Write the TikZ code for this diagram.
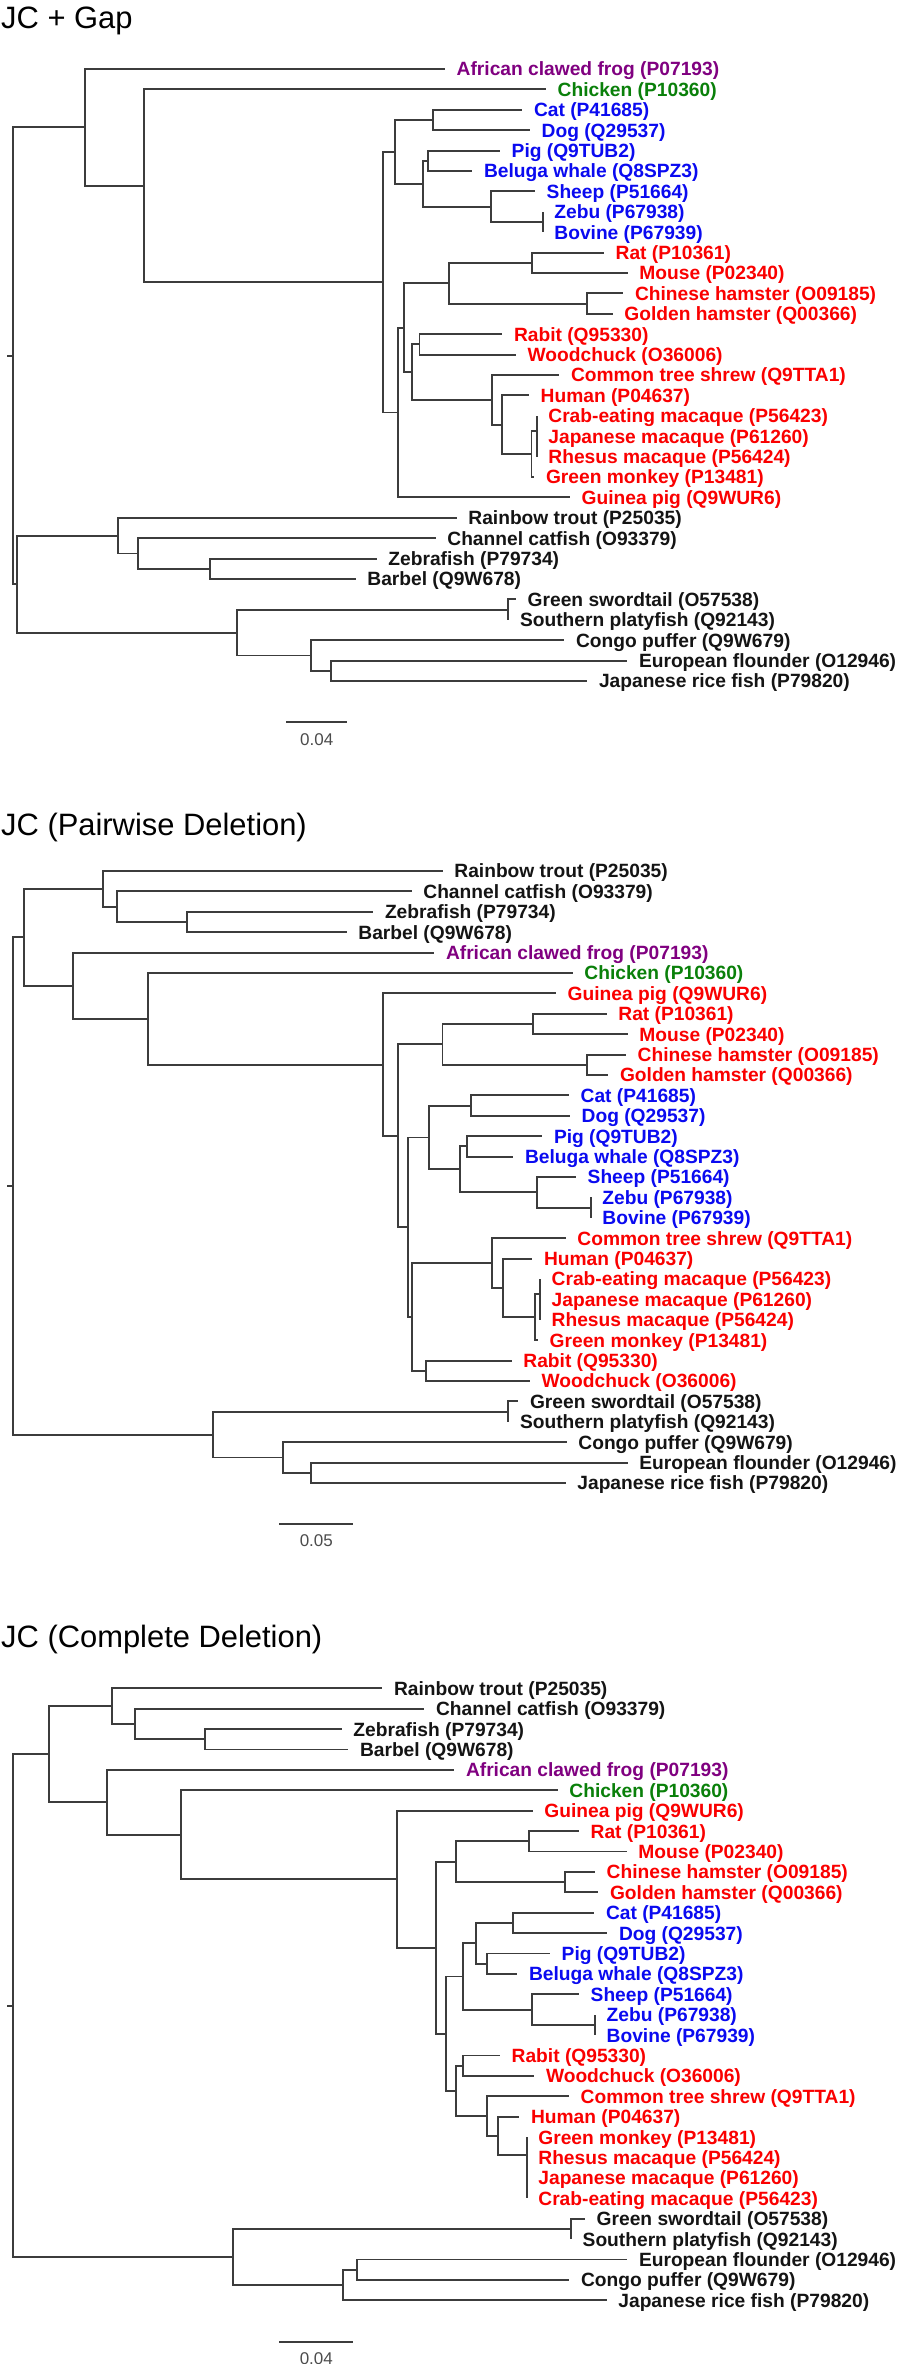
\documentclass[tikz,border=0pt]{standalone}
\usepackage{fontspec}
\setmainfont{Liberation Sans}
\usetikzlibrary{calc}
\definecolor{cpurple}{RGB}{128,0,128}
\definecolor{cgreen}{RGB}{10,128,10}
\definecolor{cblue}{RGB}{10,10,240}
\definecolor{cred}{RGB}{250,0,0}
\definecolor{cblack}{RGB}{20,20,20}
\definecolor{cline}{RGB}{60,60,60}
\tikzset{
  branch/.style={draw=cline, line width=1.9pt},
  lbl/.style={font=\bfseries\fontsize{19.2}{21}\selectfont, anchor=base west, inner sep=0pt},
  ttl/.style={font=\fontsize{30.9}{33}\selectfont, anchor=base west, inner sep=0pt, text=black},
  scl/.style={font=\fontsize{17}{19}\selectfont, anchor=base, inner sep=0pt, text=black!70},
}
\newcommand\leafnode[5]{\coordinate (#1) at (#2,#3);
  \node[lbl,text=#4] (#1-l) at ($(#1)+(11.5,6.9)$) {#5};}
\newcommand\brs[2]{\foreach \cc in {#2} {\draw[branch] (#1) |- (\cc);}}
\begin{document}
\begin{tikzpicture}[x=1pt,y=-1pt]
\fill[white] (0,0) rectangle (904,2364);
\useasboundingbox (0,0) rectangle (904,2364);

% ===================== Tree 1: JC + Gap =====================
\node[ttl] (a-title) at (1,28.3) {JC + Gap};
\leafnode{a0}{445}{69}{cpurple}{African clawed frog (P07193)}
\leafnode{a1}{546}{89.4}{cgreen}{Chicken (P10360)}
\leafnode{a2}{522.3}{109.8}{cblue}{Cat (P41685)}
\leafnode{a3}{530}{130.2}{cblue}{Dog (Q29537)}
\leafnode{a4}{500}{150.6}{cblue}{Pig (Q9TUB2)}
\leafnode{a5}{472.3}{171}{cblue}{Beluga whale (Q8SPZ3)}
\leafnode{a6}{535}{191.4}{cblue}{Sheep (P51664)}
\leafnode{a7}{542.7}{211.8}{cblue}{Zebu (P67938)}
\leafnode{a8}{542.7}{232.2}{cblue}{Bovine (P67939)}
\leafnode{a9}{604}{252.6}{cred}{Rat (P10361)}
\leafnode{a10}{627.7}{273}{cred}{Mouse (P02340)}
\leafnode{a11}{623.3}{293.4}{cred}{Chinese hamster (O09185)}
\leafnode{a12}{612.7}{313.8}{cred}{Golden hamster (Q00366)}
\leafnode{a13}{502.3}{334.2}{cred}{Rabit (Q95330)}
\leafnode{a14}{516}{354.6}{cred}{Woodchuck (O36006)}
\leafnode{a15}{559.3}{375}{cred}{Common tree shrew (Q9TTA1)}
\leafnode{a16}{529}{395.4}{cred}{Human (P04637)}
\leafnode{a17}{536.7}{415.8}{cred}{Crab-eating macaque (P56423)}
\leafnode{a18}{536.7}{436.2}{cred}{Japanese macaque (P61260)}
\leafnode{a19}{536.7}{456.6}{cred}{Rhesus macaque (P56424)}
\leafnode{a20}{534.3}{477}{cred}{Green monkey (P13481)}
\leafnode{a21}{570}{497.4}{cred}{Guinea pig (Q9WUR6)}
\leafnode{a22}{456.7}{517.8}{cblack}{Rainbow trout (P25035)}
\leafnode{a23}{435.7}{538.2}{cblack}{Channel catfish (O93379)}
\leafnode{a24}{376.7}{558.6}{cblack}{Zebrafish (P79734)}
\leafnode{a25}{355.7}{579}{cblack}{Barbel (Q9W678)}
\leafnode{a26}{516}{599.4}{cblack}{Green swordtail (O57538)}
\leafnode{a27}{508.3}{619.8}{cblack}{Southern platyfish (Q92143)}
\leafnode{a28}{564.3}{640.2}{cblack}{Congo puffer (Q9W679)}
\leafnode{a29}{627.3}{660.6}{cblack}{European flounder (O12946)}
\leafnode{a30}{587.3}{681}{cblack}{Japanese rice fish (P79820)}

\coordinate (a-zb) at (542.7,222);
\coordinate (a-sh) at (491.3,206.7);
\coordinate (a-pb) at (427.7,160.8);
\coordinate (a-d2) at (423,183.75);
\coordinate (a-cd) at (432.7,120);
\coordinate (a-D) at (395.3,151.9);
\coordinate (a-rm) at (531.7,262.8);
\coordinate (a-hm) at (586.7,303.6);
\coordinate (a-ro) at (449,283.2);
\coordinate (a-rw) at (419.5,344.4);
\coordinate (a-M2) at (536.7,431.1);
\coordinate (a-M1) at (531.5,454.05);
\coordinate (a-H) at (501.7,424.7);
\coordinate (a-pr) at (492.3,399.9);
\coordinate (a-G) at (412.3,372.1);
\coordinate (a-F) at (403.7,327.65);
\coordinate (a-E) at (397.7,412.5);
\coordinate (a-C) at (383.3,282.2);
\coordinate (a-B) at (144.3,185.8);
\coordinate (a-A) at (85.3,127.4);
\coordinate (a-zbb) at (210,568.8);
\coordinate (a-cc) at (138.3,553.5);
\coordinate (a-rt) at (117.7,535.65);
\coordinate (a-sp) at (508.3,609.6);
\coordinate (a-fr) at (331,670.8);
\coordinate (a-cp) at (310.7,655.5);
\coordinate (a-pf) at (236.7,632.55);
\coordinate (a-fish) at (16.7,584.1);
\coordinate (a-root) at (13.3,355.75);
\coordinate (a-tick) at (6.7,355.75);

\brs{a-zb}{a7,a8}
\brs{a-sh}{a6,a-zb}
\brs{a-pb}{a4,a5}
\brs{a-d2}{a-pb,a-sh}
\brs{a-cd}{a2,a3}
\brs{a-D}{a-cd,a-d2}
\brs{a-rm}{a9,a10}
\brs{a-hm}{a11,a12}
\brs{a-ro}{a-rm,a-hm}
\brs{a-rw}{a13,a14}
\brs{a-M2}{a17,a18,a19}
\brs{a-M1}{a-M2,a20}
\brs{a-H}{a16,a-M1}
\brs{a-pr}{a15,a-H}
\brs{a-G}{a-rw,a-pr}
\brs{a-F}{a-ro,a-G}
\brs{a-E}{a-F,a21}
\brs{a-C}{a-D,a-E}
\brs{a-B}{a1,a-C}
\brs{a-A}{a0,a-B}
\brs{a-zbb}{a24,a25}
\brs{a-cc}{a23,a-zbb}
\brs{a-rt}{a22,a-cc}
\brs{a-sp}{a26,a27}
\brs{a-fr}{a29,a30}
\brs{a-cp}{a28,a-fr}
\brs{a-pf}{a-sp,a-cp}
\brs{a-fish}{a-rt,a-pf}
\brs{a-root}{a-A,a-fish}
\draw[branch] (a-root) -- (a-tick);

\coordinate (a-s1) at (286,721.7);
\coordinate (a-s2) at (347.3,721.7);
\draw[branch] (a-s1) -- (a-s2);
\node[scl] (a-sl) at (316.7,745) {0.04};

% ===================== Tree 2: Pairwise =====================
\node[ttl] (b-title) at (1,835.5) {JC (Pairwise Deletion)};
\leafnode{b0}{442.7}{871}{cblack}{Rainbow trout (P25035)}
\leafnode{b1}{411.7}{891.4}{cblack}{Channel catfish (O93379)}
\leafnode{b2}{373.3}{911.8}{cblack}{Zebrafish (P79734)}
\leafnode{b3}{346.7}{932.2}{cblack}{Barbel (Q9W678)}
\leafnode{b4}{434.3}{952.6}{cpurple}{African clawed frog (P07193)}
\leafnode{b5}{572.7}{973}{cgreen}{Chicken (P10360)}
\leafnode{b6}{556}{993.4}{cred}{Guinea pig (Q9WUR6)}
\leafnode{b7}{606.7}{1013.8}{cred}{Rat (P10361)}
\leafnode{b8}{627.7}{1034.2}{cred}{Mouse (P02340)}
\leafnode{b9}{626}{1054.6}{cred}{Chinese hamster (O09185)}
\leafnode{b10}{608.3}{1075}{cred}{Golden hamster (Q00366)}
\leafnode{b11}{569}{1095.4}{cblue}{Cat (P41685)}
\leafnode{b12}{570}{1115.8}{cblue}{Dog (Q29537)}
\leafnode{b13}{542.3}{1136.2}{cblue}{Pig (Q9TUB2)}
\leafnode{b14}{513.3}{1156.6}{cblue}{Beluga whale (Q8SPZ3)}
\leafnode{b15}{576}{1177}{cblue}{Sheep (P51664)}
\leafnode{b16}{590.7}{1197.4}{cblue}{Zebu (P67938)}
\leafnode{b17}{590.7}{1217.8}{cblue}{Bovine (P67939)}
\leafnode{b18}{565.7}{1238.2}{cred}{Common tree shrew (Q9TTA1)}
\leafnode{b19}{532.3}{1258.6}{cred}{Human (P04637)}
\leafnode{b20}{540}{1279}{cred}{Crab-eating macaque (P56423)}
\leafnode{b21}{540}{1299.4}{cred}{Japanese macaque (P61260)}
\leafnode{b22}{540}{1319.8}{cred}{Rhesus macaque (P56424)}
\leafnode{b23}{538}{1340.2}{cred}{Green monkey (P13481)}
\leafnode{b24}{511.7}{1360.6}{cred}{Rabit (Q95330)}
\leafnode{b25}{530}{1381}{cred}{Woodchuck (O36006)}
\leafnode{b26}{518.3}{1401.4}{cblack}{Green swordtail (O57538)}
\leafnode{b27}{508.3}{1421.8}{cblack}{Southern platyfish (Q92143)}
\leafnode{b28}{566.7}{1442.2}{cblack}{Congo puffer (Q9W679)}
\leafnode{b29}{627.7}{1462.6}{cblack}{European flounder (O12946)}
\leafnode{b30}{565.7}{1483}{cblack}{Japanese rice fish (P79820)}

\coordinate (b-zbb) at (186.7,922);
\coordinate (b-cc) at (116.7,906.7);
\coordinate (b-rt) at (103.3,888.85);
\coordinate (b-rm) at (532.7,1024);
\coordinate (b-hm) at (587.3,1064.8);
\coordinate (b-ro) at (442.5,1044.4);
\coordinate (b-cd) at (471,1105.6);
\coordinate (b-pb) at (466.7,1146.4);
\coordinate (b-zb) at (590.7,1207.6);
\coordinate (b-sh) at (536.7,1192.3);
\coordinate (b-V2) at (460,1169.35);
\coordinate (b-V) at (429.3,1137.5);
\coordinate (b-M2) at (540,1294.3);
\coordinate (b-M1) at (535,1317.25);
\coordinate (b-H) at (503.3,1287.9);
\coordinate (b-pr) at (491.7,1263.05);
\coordinate (b-rw) at (425.7,1370.8);
\coordinate (b-W) at (411.7,1316.9);
\coordinate (b-U) at (408.3,1227.2);
\coordinate (b-T) at (397.7,1135.8);
\coordinate (b-S) at (383.3,1064.6);
\coordinate (b-R) at (148.3,1018.8);
\coordinate (b-Q) at (72.7,985.7);
\coordinate (b-P) at (24,937.3);
\coordinate (b-sp) at (508.3,1411.6);
\coordinate (b-fr) at (310.7,1472.8);
\coordinate (b-cp) at (282.7,1457.5);
\coordinate (b-fish) at (213.3,1434.55);
\coordinate (b-root) at (13.3,1185.9);
\coordinate (b-tick) at (6.7,1185.9);

\brs{b-zbb}{b2,b3}
\brs{b-cc}{b1,b-zbb}
\brs{b-rt}{b0,b-cc}
\brs{b-rm}{b7,b8}
\brs{b-hm}{b9,b10}
\brs{b-ro}{b-rm,b-hm}
\brs{b-cd}{b11,b12}
\brs{b-pb}{b13,b14}
\brs{b-zb}{b16,b17}
\brs{b-sh}{b15,b-zb}
\brs{b-V2}{b-pb,b-sh}
\brs{b-V}{b-cd,b-V2}
\brs{b-M2}{b20,b21,b22}
\brs{b-M1}{b-M2,b23}
\brs{b-H}{b19,b-M1}
\brs{b-pr}{b18,b-H}
\brs{b-rw}{b24,b25}
\brs{b-W}{b-pr,b-rw}
\brs{b-U}{b-V,b-W}
\brs{b-T}{b-ro,b-U}
\brs{b-S}{b6,b-T}
\brs{b-R}{b5,b-S}
\brs{b-Q}{b4,b-R}
\brs{b-P}{b-rt,b-Q}
\brs{b-sp}{b26,b27}
\brs{b-fr}{b29,b30}
\brs{b-cp}{b28,b-fr}
\brs{b-fish}{b-sp,b-cp}
\brs{b-root}{b-P,b-fish}
\draw[branch] (b-root) -- (b-tick);

\coordinate (b-s1) at (279.3,1524.3);
\coordinate (b-s2) at (353.3,1524.3);
\draw[branch] (b-s1) -- (b-s2);
\node[scl] (b-sl) at (316.3,1546.7) {0.05};

% ===================== Tree 3: Complete =====================
\node[ttl] (c-title) at (1,1647) {JC (Complete Deletion)};
\leafnode{c0}{382.3}{1688.3}{cblack}{Rainbow trout (P25035)}
\leafnode{c1}{424.3}{1708.7}{cblack}{Channel catfish (O93379)}
\leafnode{c2}{341.7}{1729.1}{cblack}{Zebrafish (P79734)}
\leafnode{c3}{348.3}{1749.5}{cblack}{Barbel (Q9W678)}
\leafnode{c4}{454.3}{1769.9}{cpurple}{African clawed frog (P07193)}
\leafnode{c5}{557.7}{1790.3}{cgreen}{Chicken (P10360)}
\leafnode{c6}{532.7}{1810.7}{cred}{Guinea pig (Q9WUR6)}
\leafnode{c7}{579}{1831.1}{cred}{Rat (P10361)}
\leafnode{c8}{626.7}{1851.5}{cred}{Mouse (P02340)}
\leafnode{c9}{595}{1871.9}{cred}{Chinese hamster (O09185)}
\leafnode{c10}{598.3}{1892.3}{cred}{Golden hamster (Q00366)}
\leafnode{c11}{594.3}{1912.7}{cblue}{Cat (P41685)}
\leafnode{c12}{607.3}{1933.1}{cblue}{Dog (Q29537)}
\leafnode{c13}{550}{1953.5}{cblue}{Pig (Q9TUB2)}
\leafnode{c14}{517.3}{1973.9}{cblue}{Beluga whale (Q8SPZ3)}
\leafnode{c15}{579}{1994.3}{cblue}{Sheep (P51664)}
\leafnode{c16}{595}{2014.7}{cblue}{Zebu (P67938)}
\leafnode{c17}{595}{2035.1}{cblue}{Bovine (P67939)}
\leafnode{c18}{500}{2055.5}{cred}{Rabit (Q95330)}
\leafnode{c19}{534.3}{2075.9}{cred}{Woodchuck (O36006)}
\leafnode{c20}{569}{2096.3}{cred}{Common tree shrew (Q9TTA1)}
\leafnode{c21}{519.3}{2116.7}{cred}{Human (P04637)}
\leafnode{c22}{526.7}{2137.1}{cred}{Green monkey (P13481)}
\leafnode{c23}{526.7}{2157.5}{cred}{Rhesus macaque (P56424)}
\leafnode{c24}{526.7}{2177.9}{cred}{Japanese macaque (P61260)}
\leafnode{c25}{526.7}{2198.3}{cred}{Crab-eating macaque (P56423)}
\leafnode{c26}{585}{2218.7}{cblack}{Green swordtail (O57538)}
\leafnode{c27}{571}{2239.1}{cblack}{Southern platyfish (Q92143)}
\leafnode{c28}{627.3}{2259.5}{cblack}{European flounder (O12946)}
\leafnode{c29}{569.3}{2279.9}{cblack}{Congo puffer (Q9W679)}
\leafnode{c30}{606.7}{2300.3}{cblack}{Japanese rice fish (P79820)}

\coordinate (c-zbb) at (205,1739.3);
\coordinate (c-cc) at (134.7,1724);
\coordinate (c-rt) at (111.7,1706.15);
\coordinate (c-rm) at (529,1841.3);
\coordinate (c-hm) at (565,1882.1);
\coordinate (c-ro) at (456,1861.7);
\coordinate (c-cd) at (512.7,1922.9);
\coordinate (c-pb) at (487.3,1963.7);
\coordinate (c-X) at (476,1943.3);
\coordinate (c-zb) at (595,2024.9);
\coordinate (c-sh) at (531.7,2009.6);
\coordinate (c-bl) at (463.3,1976.45);
\coordinate (c-rw) at (463.3,2065.7);
\coordinate (c-mk) at (526.7,2154.95);
\coordinate (c-H) at (498.3,2135.8);
\coordinate (c-pr) at (487.3,2116.05);
\coordinate (c-Y) at (456,2090.9);
\coordinate (c-U) at (446.3,2033.7);
\coordinate (c-T) at (436.3,1947.7);
\coordinate (c-S) at (396.7,1879.2);
\coordinate (c-R) at (180.7,1834.75);
\coordinate (c-Q) at (106.7,1802.3);
\coordinate (c-P) at (49.3,1754.2);
\coordinate (c-sp) at (571,2228.9);
\coordinate (c-fc) at (356.7,2269.7);
\coordinate (c-fr) at (343.3,2285);
\coordinate (c-fish) at (232.7,2256.95);
\coordinate (c-root) at (13.3,2005.6);
\coordinate (c-tick) at (6.7,2005.6);

\brs{c-zbb}{c2,c3}
\brs{c-cc}{c1,c-zbb}
\brs{c-rt}{c0,c-cc}
\brs{c-rm}{c7,c8}
\brs{c-hm}{c9,c10}
\brs{c-ro}{c-rm,c-hm}
\brs{c-cd}{c11,c12}
\brs{c-pb}{c13,c14}
\brs{c-X}{c-cd,c-pb}
\brs{c-zb}{c16,c17}
\brs{c-sh}{c15,c-zb}
\brs{c-bl}{c-X,c-sh}
\brs{c-rw}{c18,c19}
\brs{c-mk}{c22,c23,c24,c25}
\brs{c-H}{c21,c-mk}
\brs{c-pr}{c20,c-H}
\brs{c-Y}{c-rw,c-pr}
\brs{c-U}{c-bl,c-Y}
\brs{c-T}{c-ro,c-U}
\brs{c-S}{c6,c-T}
\brs{c-R}{c5,c-S}
\brs{c-Q}{c4,c-R}
\brs{c-P}{c-rt,c-Q}
\brs{c-sp}{c26,c27}
\brs{c-fc}{c28,c29}
\brs{c-fr}{c-fc,c30}
\brs{c-fish}{c-sp,c-fr}
\brs{c-root}{c-P,c-fish}
\draw[branch] (c-root) -- (c-tick);

\coordinate (c-s1) at (279.3,2341.7);
\coordinate (c-s2) at (353.3,2341.7);
\draw[branch] (c-s1) -- (c-s2);
\node[scl] (c-sl) at (316.3,2364.4) {0.04};
\end{tikzpicture}
\end{document}
